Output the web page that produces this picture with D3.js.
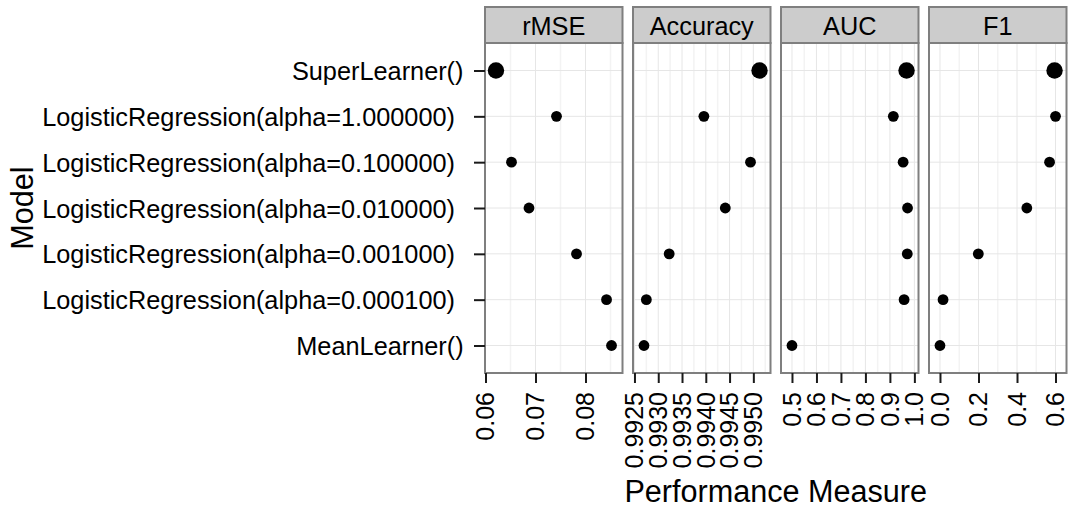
<!DOCTYPE html>
<html><head><meta charset="utf-8">
<script src="https://cdn.jsdelivr.net/npm/d3@7"></script>
<style>body{margin:0;background:#fff;} svg{display:block;}</style>
</head><body>
<svg id="chart" width="1069" height="510"></svg>
<script>
// ---- data ----
const models = ["SuperLearner()", "LogisticRegression(alpha=1.000000)", "LogisticRegression(alpha=0.100000)",
  "LogisticRegression(alpha=0.010000)", "LogisticRegression(alpha=0.001000)", "LogisticRegression(alpha=0.000100)", "MeanLearner()"];
const measures = ["rMSE", "Accuracy", "AUC", "F1"];
const rmseValues = [0.0621, 0.0742, 0.0652, 0.0687, 0.0782, 0.0842, 0.0852];
const accuracyValues = [0.99513, 0.99396, 0.99494, 0.99441, 0.99323, 0.99275, 0.99270];
const aucValues = [0.968, 0.914, 0.954, 0.972, 0.971, 0.958, 0.500];
const f1Values = [0.595, 0.600, 0.569, 0.451, 0.199, 0.016, 0.000];
const rmseTicks = [0.06, 0.07, 0.08];
const accuracyTicks = [0.9925, 0.9930, 0.9935, 0.9940, 0.9945, 0.9950];
const aucTicks = [0.5, 0.6, 0.7, 0.8, 0.9, 1.0];
const f1Ticks = [0.0, 0.2, 0.4, 0.6];
const tickFormats = [".2f", ".4f", ".1f", ".1f"];
const xTitle = "Performance Measure";
const yTitle = "Model";

const facetValues = [rmseValues, accuracyValues, aucValues, f1Values];
const facetTicks = [rmseTicks, accuracyTicks, aucTicks, f1Ticks];

// ---- layout ----
const FONT = "'Liberation Sans', Arial, Helvetica, sans-serif";
const panelTop = 43, panelBottom = 373, stripTop = 7;
const panelsLeft = 485, panelsRight = 1066.5, gap = 10.5;
const pw = (panelsRight - panelsLeft - 3 * gap) / 4;
const pad = 0.095;

const svg = d3.select("#chart");

const y = d3.scalePoint().domain(models).range([panelTop, panelBottom]).padding(0.6);

measures.forEach((m, i) => {
  const x0 = panelsLeft + i * (pw + gap);
  const vals = facetValues[i];
  const [mn, mx] = d3.extent(vals);
  const r = mx - mn;
  const x = d3.scaleLinear().domain([mn - pad * r, mx + pad * r]).range([x0, x0 + pw]);
  const ticks = facetTicks[i];
  const step = ticks[1] - ticks[0];
  const minors = [];
  for (let k = -1; k < ticks.length; k++) {
    const v = ticks[0] + (k + 0.5) * step;
    if (v > x.domain()[0] && v < x.domain()[1]) minors.push(v);
  }
  const g = svg.append("g");
  g.append("rect").attr("x", x0).attr("y", panelTop).attr("width", pw).attr("height", panelBottom - panelTop).attr("fill", "#fff");
  g.selectAll(".minor").data(minors).join("line")
    .attr("x1", d => x(d)).attr("x2", d => x(d)).attr("y1", panelTop).attr("y2", panelBottom)
    .attr("stroke", "#F3F3F3").attr("stroke-width", 1.5);
  g.selectAll(".majorx").data(ticks).join("line")
    .attr("x1", d => x(d)).attr("x2", d => x(d)).attr("y1", panelTop).attr("y2", panelBottom)
    .attr("stroke", "#E6E6E6").attr("stroke-width", 1);
  g.selectAll(".majory").data(models).join("line")
    .attr("x1", x0).attr("x2", x0 + pw).attr("y1", d => y(d)).attr("y2", d => y(d))
    .attr("stroke", "#E6E6E6").attr("stroke-width", 1);
  g.selectAll(".pt").data(models).join("circle")
    .attr("cx", (d, j) => x(vals[j])).attr("cy", d => y(d))
    .attr("r", (d, j) => j === 0 ? 8.2 : 5.4).attr("fill", "#000");
  g.append("rect").attr("x", x0).attr("y", panelTop).attr("width", pw).attr("height", panelBottom - panelTop)
    .attr("fill", "none").attr("stroke", "#7F7F7F").attr("stroke-width", 2);
  g.append("rect").attr("x", x0).attr("y", stripTop).attr("width", pw).attr("height", panelTop - stripTop)
    .attr("fill", "#CCCCCC").attr("stroke", "#7F7F7F").attr("stroke-width", 2);
  g.append("text").attr("x", x0 + pw / 2).attr("y", 35).attr("text-anchor", "middle")
    .attr("font-family", FONT).attr("font-size", 25.3).attr("fill", "#000").text(m);
  const axis = d3.axisBottom(x).tickValues(ticks).tickSize(10).tickFormat(d3.format(tickFormats[i]));
  const ag = svg.append("g").attr("transform", `translate(0,${panelBottom})`).call(axis);
  ag.select(".domain").remove();
  ag.selectAll(".tick line").attr("stroke", "#1a1a1a").attr("stroke-width", 2);
  ag.selectAll(".tick text")
    .attr("font-family", FONT).attr("font-size", 25).attr("fill", "#000")
    .attr("text-anchor", "end").attr("x", 0).attr("y", 0).attr("dy", "0.33em")
    .attr("transform", "translate(0,19) rotate(-90)");
});

// y axis
const yAxis = d3.axisLeft(y).tickSize(11).tickPadding(4);
const yg = svg.append("g").attr("transform", `translate(${panelsLeft},0)`).call(yAxis);
yg.select(".domain").remove();
yg.selectAll(".tick line").attr("stroke", "#1a1a1a").attr("stroke-width", 2);
yg.selectAll(".tick text").attr("font-family", FONT).attr("font-size", 25.3).attr("fill", "#000")
  .attr("dy", "0.36em").attr("text-anchor", "start")
  .each(function () {
    const len = this.getComputedTextLength();
    d3.select(this).attr("x", 469.5 - panelsLeft - 1.0352 * len);
  });

// titles
svg.append("text").attr("x", (panelsLeft + panelsRight) / 2).attr("y", 502).attr("text-anchor", "middle")
  .attr("font-family", FONT).attr("font-size", 30.6).attr("fill", "#000").text(xTitle);
svg.append("text").attr("transform", `translate(33,${(panelTop + panelBottom) / 2}) rotate(-90)`)
  .attr("text-anchor", "middle").attr("font-family", FONT).attr("font-size", 30.6).attr("fill", "#000").text(yTitle);
</script>
</body></html>
